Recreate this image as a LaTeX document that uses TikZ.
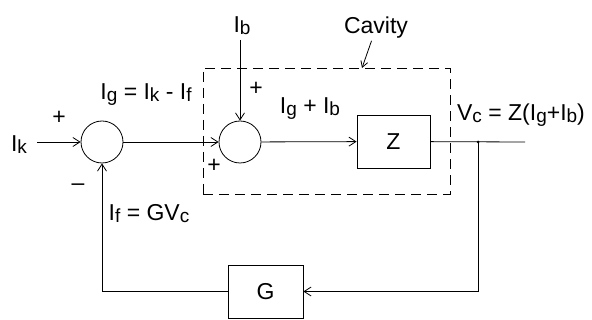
\documentclass[tikz,border=0pt]{standalone}
\usepackage{fontspec}
\setmainfont{Liberation Sans}
\usetikzlibrary{arrows.meta}
\newcommand\sbx[1]{\raisebox{-2pt}{\fontsize{19}{19}\selectfont #1}}
\begin{document}
\begin{tikzpicture}[x=1pt,y=-1pt,
  every node/.style={font=\fontsize{23}{23}\selectfont},
  line/.style={line width=0.8pt},
  arr/.style={line, -{Straight Barb[length=7pt,width=9pt]}},
  sumnode/.style={circle, draw, line width=0.8pt, minimum size=42pt, inner sep=0pt},
  blockbox/.style={draw, line width=0.8pt, inner sep=0pt},
  lbl/.style={inner sep=0pt},
  cavbox/.style={draw, line width=0.8pt, dash pattern=on 10pt off 6pt, inner sep=0pt}]
\useasboundingbox (0,0) rectangle (592,320);
% blocks
\node[sumnode] (s1) at (102,142) {};
\node[sumnode] (s2) at (240,142) {};
\node[blockbox, minimum width=73pt, minimum height=53pt] (Z) at (393.5,141.5) {Z};
\node[blockbox, minimum width=75pt, minimum height=53pt] (G) at (265.5,291.5) {G};
\node[cavbox, minimum width=247pt, minimum height=126pt] (cav) at (326.5,131) {};
% coordinates
\coordinate (in) at (37,142);
\coordinate (ib) at (240,40);
\coordinate (j) at (478,142);
\coordinate (out) at (525,142);
\coordinate (cavtip) at (362,68);
% connectors
\draw[arr] (in) -- (s1);
\draw[arr] (s1) -- (s2);
\draw[arr] (ib) -- (s2);
\draw[arr] (s2) -- (Z);
\draw[line] (Z) -- (out);
\fill (j) circle (1.5pt);
\draw[arr] (j) |- (G);
\draw[arr] (G) -| (s1);
% labels
\node[lbl] (cavlbl) at (376,28) {Cavity};
\draw[line, -{Straight Barb[length=6pt,width=7pt]}, shorten <=2pt] (cavlbl) -- (cavtip);
\node[lbl] (lik) at (19,145) {I\sbx{k}};
\node[lbl] (p1) at (59,118) {+};
\node[lbl] (m1) at (78,187) {–};
\node[lbl] (lig) at (146,95) {I\sbx{g} = I\sbx{k} - I\sbx{f}};
\node[lbl] (lib) at (242,26) {I\sbx{b}};
\node[lbl] (p2) at (256,89) {+};
\node[lbl] (p3) at (214,166) {+};
\node[lbl] (ligb) at (310,109) {I\sbx{g} + I\sbx{b}};
\node[lbl] (lif) at (149,214) {I\sbx{f} = GV\sbx{c}};
\node[lbl] (lvc) at (521,115) {V\sbx{c} = Z(I\sbx{g}+I\sbx{b})};
\end{tikzpicture}
\end{document}
